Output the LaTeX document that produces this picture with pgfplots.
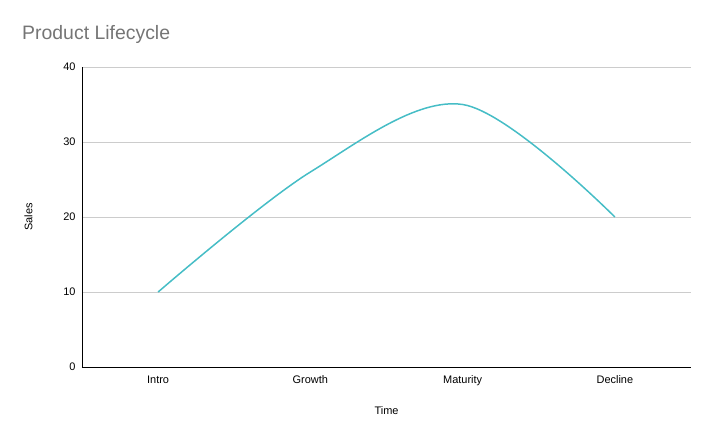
\documentclass[border=0pt]{standalone}
\usepackage{fontspec}
\setmainfont{Liberation Sans}
\usepackage{pgfplots}
\pgfplotsset{compat=1.18}
\definecolor{lineteal}{HTML}{46BDC6}
\definecolor{gridgrey}{HTML}{CCCCCC}
\definecolor{titlegrey}{HTML}{757575}
\begin{document}
\begin{tikzpicture}
\begin{axis}[
  scale only axis,
  width=609bp, height=300bp,
  xmin=-0.5, xmax=3.5,
  ymin=0, ymax=40,
  xtick={0,1,2,3},
  xticklabels={Intro,Growth,Maturity,Decline},
  ytick={0,10,20,30,40},
  axis x line*=bottom,
  axis y line*=left,
  axis line style={black, line width=0.8pt},
  x axis line style={-},
  y axis line style={-},
  ymajorgrids,
  major grid style={gridgrey, line width=0.6pt},
  major tick length=0pt,
  tick style={draw=none},
  ticklabel style={font=\fontsize{11}{12}\selectfont},
  /pgf/number format/assume math mode=true,
  xticklabel style={yshift=-5bp},
  yticklabel style={xshift=-3bp},
  xlabel={Time},
  ylabel={Sales},
  xlabel style={font=\fontsize{11}{12}\selectfont, at={(axis description cs:0.5,-0.1467)}, anchor=center},
  ylabel style={font=\fontsize{11}{12}\selectfont, at={(axis description cs:-0.0878,0.5)}, anchor=center, rotate=0},
  clip=false,
]
\addplot[lineteal, line width=1.5bp, smooth, tension=0.55] coordinates {
  (0,10) (1,26) (2,35) (3,20)
};
\node[anchor=west, font=\fontsize{19.5}{22}\selectfont, text=titlegrey, inner sep=0pt] at (axis description cs:-0.0985,1.11) {Product Lifecycle};
\end{axis}
\path ([xshift=-82bp,yshift=-74bp]current axis.south west) rectangle ([xshift=23bp,yshift=67bp]current axis.north east);
\end{tikzpicture}
\end{document}
